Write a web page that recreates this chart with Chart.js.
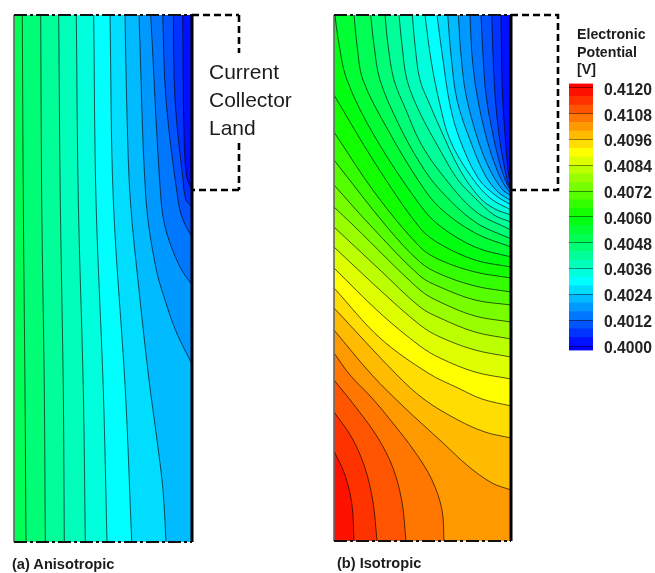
<!DOCTYPE html>
<html>
<head>
<meta charset="utf-8">
<script src="https://cdn.jsdelivr.net/npm/chart.js@4"></script>
<style>
html,body{margin:0;padding:0;background:#fff;width:655px;height:573px;overflow:hidden}
canvas{position:absolute;filter:blur(0.35px)}
.t{position:absolute;font-family:"Liberation Sans",Arial,sans-serif;color:#1c1c1c;white-space:pre}
</style>
</head>
<body>
<canvas id="a" style="left:0;top:0"></canvas>
<canvas id="b" style="left:320px;top:0"></canvas>
<canvas id="bar" style="left:569px;top:76px"></canvas>
<div class="t" style="left:209px;top:58px;font-size:21px;line-height:28px">Current
Collector
Land</div>
<div class="t" style="left:577px;top:26px;font-size:14.2px;font-weight:bold;line-height:17.5px">Electronic
Potential
[V]</div>
<div class="t" style="left:12px;top:556px;font-size:14.6px;font-weight:bold">(a) Anisotropic</div>
<div class="t" style="left:337px;top:555px;font-size:14.6px;font-weight:bold">(b) Isotropic</div>
<script>
// Colour scale and bands [V]
const tickValues = [0.4, 0.4012, 0.4024, 0.4036, 0.4048, 0.406, 0.4072, 0.4084, 0.4096, 0.4108, 0.412];
const rainbowStops = [[0.4,[0,0,255]],[0.403,[0,255,255]],[0.406,[0,255,0]],[0.409,[255,255,0]],[0.412,[255,0,0]]];
const bandStep = 0.0004;
const barExtent = [0.39981, 0.41219];

// Domain size (width, height) in plot units
const domainA = [178, 527];
const domainB = [177, 526];

// Panel (a) Anisotropic contours: [level, points [across, depth]]
const anisoLevels = [0.4048,0.4044,0.404,0.4036,0.4032,0.4028,0.4024,0.402,0.4016,0.4012,0.4008,0.4004];
const anisoLines = [
 [[8.3,0],[9.3,185],[11,375],[12,527]],
 [[26.7,0],[27.7,185],[30.3,375],[31.3,527]],
 [[44.7,0],[46.3,185],[49.3,375],[50.3,527]],
 [[62.3,0],[64.3,185],[69.3,375],[71.3,527]],
 [[79.7,0],[82,185],[89.3,375],[93,527]],
 [[96,0],[99.3,185],[111.3,375],[117.7,527]],
 [[111,0],[113,100],[116.3,185],[125,275],[135,365],[143,425],[149,475],[152,527]],
 [[125,0],[132,185],[141.7,252],[151,285],[162.7,318],[178,349]],
 [[136.7,0],[147,185],[152.7,218],[166,252],[178,270]],
 [[148.7,0],[152,85],[164,185],[169,205],[178,222]],
 [[159.3,0],[161,85],[169,165],[172,185],[178,192]],
 [[168.7,0],[170,118],[172.7,162],[178,175]]
];

// Panel (b) Isotropic contours
const isoLevels = [0.4116,0.4112,0.4108,0.4104,0.41,0.4096,0.4092,0.4088,0.4084,0.408,0.4076,0.4072,0.4068,0.4064,0.406,0.4056,0.4052,0.4048,0.4044,0.404,0.4036,0.4032,0.4028,0.4024,0.402,0.4016,0.4012,0.4008,0.4004];
const isoLines = [
 [[0,436],[11,460],[18,490],[20,526]],
 [[0,397],[18,423],[31,453],[39,487],[43,526]],
 [[0,365],[24,395],[44,423],[59,453],[68,487],[72,526]],
 [[0,338],[16,360],[38,383],[58,407],[81,437],[98,465],[108,495],[110,526]],
 [[0,315],[38,360],[71,393],[108,427],[134,451],[158,468],[177,475]],
 [[0,293],[63,360],[91,385],[124,405],[151,417],[177,423]],
 [[0,273],[46,323],[94,358],[124,373],[148,384],[177,391]],
 [[0,253],[46,298],[86,331],[106,343],[141,357],[177,364]],
 [[0,232],[46,275],[86,310],[106,322],[141,335],[177,342]],
 [[0,212],[46,255],[86,292],[106,303],[141,317],[177,324]],
 [[0,192],[19,210],[86,275],[106,287],[141,301],[177,307]],
 [[0,170],[36,210],[86,261],[106,272],[141,285],[177,290]],
 [[0,145],[53,212],[86,247],[106,259],[141,271],[177,277]],
 [[0,117],[41,178],[86,232],[106,245],[141,257],[177,263]],
 [[0,80],[41,148],[86,213],[106,229],[141,245],[177,252]],
 [[1,0],[4,23],[13,65],[41,122],[86,190],[106,211],[141,232],[177,242]],
 [[20,0],[23,30],[29,65],[54,115],[86,168],[106,193],[141,218],[177,232]],
 [[36.7,0],[40,30],[46,65],[65,110],[86,148],[106,175],[141,207],[177,224]],
 [[51,0],[54,30],[60,65],[72,95],[86,127],[106,157],[141,196],[177,215]],
 [[65,0],[68,30],[73,65],[86,98],[106,135],[124,165],[141,183],[160,200],[177,207]],
 [[78.3,0],[81,30],[86,65],[96,90],[106,113],[126,155],[146,183],[161,194],[177,200]],
 [[91,0],[97,45],[106,90],[116,125],[136,160],[156,183],[177,195]],
 [[103,0],[109,45],[116,90],[126,125],[144,163],[161,180],[177,190]],
 [[113.7,0],[117,40],[123,85],[136,125],[151,160],[164,177],[177,185.7]],
 [[124.3,0],[127,40],[132,80],[144,125],[156,155],[168,174],[177,181]],
 [[136,0],[138,40],[143,80],[153,125],[163,155],[171,171],[177,178]],
 [[147,0],[149,40],[152,80],[159,120],[167,153],[173,169],[177,176]],
 [[157.7,0],[159,40],[161,80],[165,120],[170,150],[174,168],[177,175]],
 [[167,0],[167.5,40],[168.5,80],[171,120],[174,155],[177,173]]
];

// Current collector land outline, [across, depth]
const landTopA = [[178,0],[225,0]];
const landSideA1 = [[225,0],[225,38]];
const landSideA2 = [[225,128],[225,175]];
const landBottomA = [[225,175],[178,175]];
const landB = [[177,0],[224,0],[224,175],[177,175]];

function potentialColor(v){
  for(let i=0;i<rainbowStops.length-1;i++){
    const [a,ca]=rainbowStops[i],[b,cb]=rainbowStops[i+1];
    if(v<=b){
      const t=Math.max(0,(v-a)/(b-a));
      return 'rgb('+ca.map((c,k)=>Math.round(c+(cb[k]-c)*t)).join(',')+')';
    }
  }
  return 'rgb(255,0,0)';
}
const toXY = pts => pts.map(p=>({x:p[0],y:p[1]}));

// Floods the side of every contour that holds the higher potential, lowest first.
const floodPlugin = {
  id:'flood',
  beforeDatasetsDraw(chart,args,opts){
    const {ctx,scales:{x,y}} = chart;
    const [W,H] = opts.domain;
    const px=v=>x.getPixelForValue(v), py=v=>y.getPixelForValue(v);
    ctx.save();
    ctx.fillStyle = potentialColor(0.4002);
    ctx.fillRect(px(0),py(0),px(W)-px(0),py(H)-py(0));
    const items = chart.data.datasets
      .map((d,i)=>({d,i}))
      .filter(o=>o.d.level!==undefined)
      .sort((p,q)=>p.d.level-q.d.level);
    for(const {d,i} of items){
      const line = chart.getDatasetMeta(i).dataset;
      line.updateControlPoints(chart.chartArea,'x');
      ctx.beginPath();
      line.path(ctx);
      const last=d.data[d.data.length-1], first=d.data[0];
      if(last.x>=W-0.01) ctx.lineTo(px(W),py(H));
      ctx.lineTo(px(0),py(H));
      if(first.y===0) ctx.lineTo(px(0),py(0));
      ctx.closePath();
      ctx.fillStyle = potentialColor(d.level+bandStep/2);
      ctx.fill();
    }
    ctx.restore();
  }
};

function frameSet(pts,color,width,dash){
  return {data:toXY(pts),showLine:true,borderColor:color,borderWidth:width,borderDash:dash||[],
          pointRadius:0,tension:0,fill:false,borderCapStyle:'butt',clip:false};
}
function contourSet(pts,level){
  return {level,data:toXY(pts),showLine:true,borderColor:'rgba(0,0,0,0.72)',borderWidth:0.9,
          pointRadius:0,tension:0.35,fill:false,cubicInterpolationMode:'default',clip:false};
}
function panel(id,width,height,xMin,yMin,domain,levels,lines,outline){
  const [W,H]=domain;
  const cv=document.getElementById(id);
  cv.width=width;cv.height=height;
  const dashDot=[13,3,3,3];
  const sets=[
    frameSet([[W,0],[W,H]],'#000',3),
    frameSet([[0,0],[W,0]],'#111',2,dashDot),
    frameSet([[0,H],[W,H]],'#111',2,dashDot),
    frameSet([[0,0],[0,H]],'#666',1.6),
    ...outline.map(o=>frameSet(o,'#000',2.6,[7,4])),
    ...lines.map((l,i)=>contourSet(l,levels[i]))
  ];
  return new Chart(cv,{
    type:'scatter',
    data:{datasets:sets},
    plugins:[floodPlugin],
    options:{
      responsive:false,animation:false,devicePixelRatio:1,
      layout:{padding:0},
      plugins:{legend:{display:false},tooltip:{enabled:false},flood:{domain}},
      scales:{
        x:{type:'linear',display:false,min:xMin,max:xMin+width},
        y:{type:'linear',display:false,min:yMin,max:yMin+height,reverse:true}
      }
    }
  });
}
panel('a',252,573,-14,-15,domainA,anisoLevels,anisoLines,[landTopA,landSideA1,landSideA2,landBottomA]);
panel('b',250,573,-14,-15,domainB,isoLevels,isoLines,[landB]);

// Colour bar
(function(){
  const cv=document.getElementById('bar');
  cv.width=86;cv.height=284;
  const edges=[barExtent[0]];
  for(let i=0;i<=30;i++) edges.push(+(0.4+i*bandStep).toFixed(4));
  edges.push(barExtent[1]);
  const sets=[];
  for(let i=0;i<edges.length-1;i++){
    const mid=(edges[i]+edges[i+1])/2;
    sets.push({data:[[edges[i],edges[i+1]]],backgroundColor:potentialColor(mid),borderWidth:0,grouped:false,
               barPercentage:1,categoryPercentage:1});
  }
  const unit=258/0.012;
  new Chart(cv,{
    type:'bar',
    data:{labels:['Electronic Potential'],datasets:sets},
    options:{
      responsive:false,animation:false,devicePixelRatio:1,
      layout:{padding:0},
      plugins:{legend:{display:false},tooltip:{enabled:false}},
      scales:{
        x:{display:false},
        y:{
          position:'right',
          min:0.4-14/unit,max:0.412+12/unit,
          afterBuildTicks(s){s.ticks=tickValues.map(v=>({value:v}));},
          afterFit(s){s.width=62;s.paddingTop=0;s.paddingBottom=0;},
          border:{display:false},
          grid:{display:true,drawTicks:false,color:'rgba(0,0,0,0.45)',lineWidth:1,z:1},
          ticks:{autoSkip:false,padding:11,labelOffset:2.5,color:'#222',
                 font:{family:'"Liberation Sans",Arial,sans-serif',size:15.7,weight:'bold'},
                 callback:v=>v.toFixed(4)}
        }
      }
    }
  });
})();
</script>
</body>
</html>
